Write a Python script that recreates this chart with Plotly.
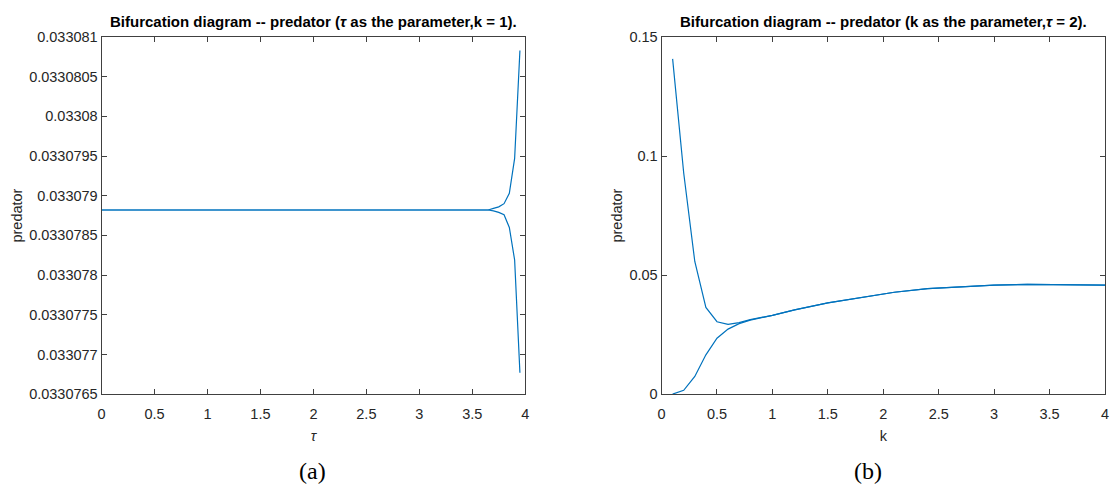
import plotly.graph_objects as go

# ---- Data: panel (a) tau as parameter, k = 1 ----
tau = [0, 3.65, 3.7, 3.75, 3.8, 3.85, 3.9, 3.95]
pred_tau_upper = [0.03307882, 0.03307882, 0.03307884, 0.03307886, 0.03307890,
                  0.03307903, 0.03307947, 0.03308083]
pred_tau_lower = [0.03307882, 0.03307882, 0.03307881, 0.03307879, 0.03307876,
                  0.03307860, 0.03307819, 0.03307677]

# ---- Data: panel (b) k as parameter, tau = 2 ----
k_vals = [0.1, 0.2, 0.3, 0.4, 0.5, 0.6, 0.7, 0.8, 1.0, 1.2, 1.5, 1.8, 2.1,
          2.4, 2.7, 3.0, 3.3, 3.6, 4.0]
pred_k_upper = [0.1408, 0.0929, 0.0557, 0.0364, 0.0304, 0.0293, 0.0300, 0.0313,
                0.0331, 0.0354, 0.0383, 0.0404, 0.0428, 0.0443, 0.0452, 0.0458,
                0.0461, 0.0461, 0.0458]
pred_k_lower = [0.0, 0.0016, 0.0074, 0.0165, 0.0235, 0.0273, 0.0296, 0.0311,
                0.0331, 0.0354, 0.0383, 0.0404, 0.0428, 0.0443, 0.0452, 0.0458,
                0.0461, 0.0461, 0.0458]

# ---- Tick labels ----
x_ticks = [0, 0.5, 1, 1.5, 2, 2.5, 3, 3.5, 4]
x_ticktext = ["0", "0.5", "1", "1.5", "2", "2.5", "3", "3.5", "4"]
ya_ticks = [0.0330765, 0.033077, 0.0330775, 0.033078, 0.0330785, 0.033079,
            0.0330795, 0.03308, 0.0330805, 0.033081]
ya_ticktext = ["0.0330765", "0.033077", "0.0330775", "0.033078", "0.0330785",
               "0.033079", "0.0330795", "0.03308", "0.0330805", "0.033081"]
yb_ticks = [0, 0.05, 0.1, 0.15]
yb_ticktext = ["0", "0.05", "0.1", "0.15"]

LINE = "#0072BD"
AX = "#404040"
TXT = "#262626"
FONT = "Liberation Sans, Arial, sans-serif"
TICK_SIZE = 14.5
LABEL_SIZE = 14.5

fig = go.Figure()
for y in (pred_tau_upper, pred_tau_lower):
    fig.add_trace(go.Scatter(x=tau, y=y, mode="lines", xaxis="x", yaxis="y",
                             line=dict(color=LINE, width=1.2), showlegend=False))
for y in (pred_k_upper, pred_k_lower):
    fig.add_trace(go.Scatter(x=k_vals, y=y, mode="lines", xaxis="x2", yaxis="y2",
                             line=dict(color=LINE, width=1.2), showlegend=False))

W, H = 1112, 495
ydom = [1 - 399 / H, 1 - 30 / H]

common_axis = dict(showgrid=False, zeroline=False, showline=True, linecolor=AX,
                   linewidth=1, mirror="ticks", ticks="inside", ticklen=5,
                   tickcolor=AX, tickwidth=1,
                   tickfont=dict(family=FONT, size=TICK_SIZE, color=TXT))

xcommon = dict(ticklabelstandoff=6, **common_axis)

fig.update_layout(
    width=W, height=H,
    margin=dict(l=0, r=0, t=0, b=0),
    paper_bgcolor="white", plot_bgcolor="white",
    font=dict(family=FONT, color=TXT),
    xaxis=dict(domain=[98.3 / W, 525 / W], range=[0, 4], tickmode="array",
               tickvals=x_ticks, ticktext=x_ticktext, anchor="y",
               title=dict(text="<i>τ</i>", font=dict(family=FONT, size=LABEL_SIZE, color=TXT),
                          standoff=10),
               **xcommon),
    yaxis=dict(domain=ydom, range=[0.0330765, 0.033081], tickmode="array",
               tickvals=ya_ticks, ticktext=ya_ticktext, anchor="x",
               title=dict(text="predator", font=dict(family=FONT, size=LABEL_SIZE, color=TXT),
                          standoff=3),
               **common_axis),
    xaxis2=dict(domain=[662.3 / W, 1109 / W], range=[0, 4], tickmode="array",
                tickvals=x_ticks, ticktext=x_ticktext, anchor="y2",
                title=dict(text="k", font=dict(family=FONT, size=LABEL_SIZE, color=TXT),
                           standoff=10),
                **xcommon),
    yaxis2=dict(domain=ydom, range=[0, 0.15], tickmode="array",
                tickvals=yb_ticks, ticktext=yb_ticktext, anchor="x2",
                title=dict(text="predator", font=dict(family=FONT, size=LABEL_SIZE, color=TXT),
                           standoff=3),
                **common_axis),
    annotations=[
        dict(text="<b>Bifurcation diagram -- predator (<i>τ</i> as the parameter,k = 1).</b>",
             x=(98.3 + 525) / 2 / W, y=1 - 14 / H, xref="paper", yref="paper",
             showarrow=False, xanchor="center", yanchor="middle",
             font=dict(family=FONT, size=15, color="black")),
        dict(text="<b>Bifurcation diagram -- predator (k as the parameter,<i>τ</i> = 2).</b>",
             x=(662.3 + 1109) / 2 / W, y=1 - 14 / H, xref="paper", yref="paper",
             showarrow=False, xanchor="center", yanchor="middle",
             font=dict(family=FONT, size=15, color="black")),
        dict(text="(a)", x=311 / W, y=1 - 478 / H, xref="paper", yref="paper",
             showarrow=False, xanchor="center", yanchor="middle",
             font=dict(family="Liberation Serif, Times New Roman, serif", size=24,
                       color="black")),
        dict(text="(b)", x=870 / W, y=1 - 478 / H, xref="paper", yref="paper",
             showarrow=False, xanchor="center", yanchor="middle",
             font=dict(family="Liberation Serif, Times New Roman, serif", size=24,
                       color="black")),
    ],
)

fig.write_html("out.html")
